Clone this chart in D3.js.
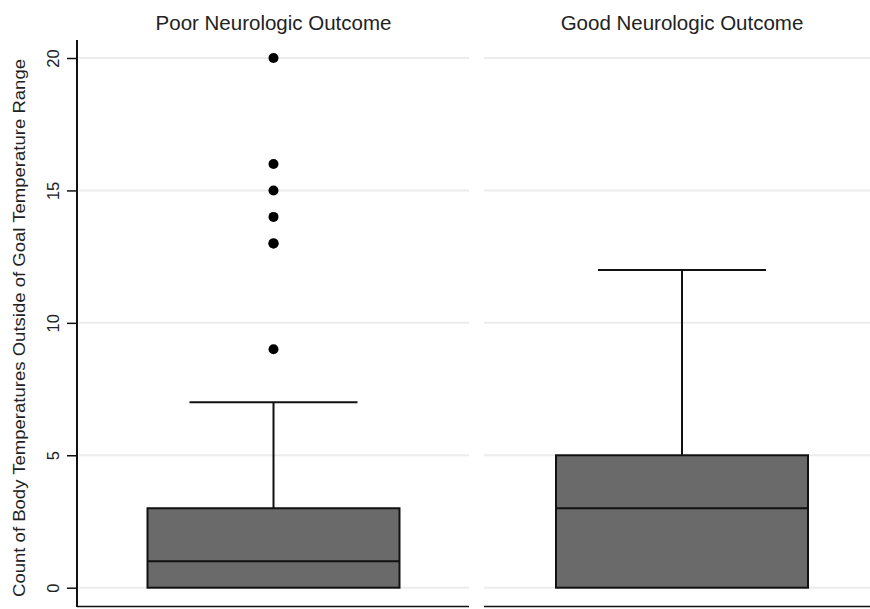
<!DOCTYPE html>
<html>
<head>
<meta charset="utf-8">
<script src="https://cdn.jsdelivr.net/npm/d3@7"></script>
<style>
  body { margin: 0; background: #fff; }
  svg { display: block; font-family: "Liberation Sans", Arial, sans-serif; }
</style>
</head>
<body>
<div id="chart"></div>
<script>
// Data
const groups = ['Poor Neurologic Outcome', 'Good Neurologic Outcome'];
const q1 = [0, 0];
const medians = [1, 3];
const q3 = [3, 5];
const whiskerLow = [0, 0];
const whiskerHigh = [7, 12];
const outliers = [[9, 13, 13, 14, 15, 16, 20], []];
const yTicks = [0, 5, 10, 15, 20];
const yLabel = 'Count of Body Temperatures Outside of Goal Temperature Range';

const width = 870;
const height = 609;

// Panel extents (two facets sharing one y axis)
const panels = [[77, 469], [484, 880]];
const boxWidth = 252;

const svg = d3.select('#chart')
  .append('svg')
  .attr('width', width)
  .attr('height', height);

const y = d3.scaleLinear()
  .domain([0, 20])
  .range([587.7, 58]);

// Box centres, one per facet
const x = d3.scaleOrdinal()
  .domain(groups)
  .range([273.5, 682]);

groups.forEach((name, i) => {
  const [x0, x1] = panels[i];
  const cx = x(name);
  const left = cx - boxWidth / 2;

  const g = svg.append('g');

  // Gridlines
  g.selectAll('.grid')
    .data(yTicks)
    .enter()
    .append('line')
    .attr('x1', x0 + (i === 0 ? 2 : 0))
    .attr('x2', Math.min(x1, width))
    .attr('y1', d => y(d))
    .attr('y2', d => y(d))
    .attr('stroke', '#ececec')
    .attr('stroke-width', 2);

  // Title
  g.append('text')
    .attr('x', cx)
    .attr('y', 30)
    .attr('text-anchor', 'middle')
    .style('font-size', '20.5px')
    .style('fill', '#222')
    .text(name);

  // Whisker (upper)
  g.append('line')
    .attr('x1', cx).attr('x2', cx)
    .attr('y1', y(q3[i])).attr('y2', y(whiskerHigh[i]))
    .attr('stroke', '#111').attr('stroke-width', 2);
  g.append('line')
    .attr('x1', cx - 84).attr('x2', cx + 84)
    .attr('y1', y(whiskerHigh[i])).attr('y2', y(whiskerHigh[i]))
    .attr('stroke', '#111').attr('stroke-width', 2);

  // Whisker (lower), only if below box
  if (whiskerLow[i] < q1[i]) {
    g.append('line')
      .attr('x1', cx).attr('x2', cx)
      .attr('y1', y(q1[i])).attr('y2', y(whiskerLow[i]))
      .attr('stroke', '#111').attr('stroke-width', 2);
  }

  // Box
  g.append('rect')
    .attr('x', left)
    .attr('y', y(q3[i]))
    .attr('width', boxWidth)
    .attr('height', y(q1[i]) - y(q3[i]))
    .attr('fill', '#6a6a6a')
    .attr('stroke', '#111')
    .attr('stroke-width', 2);

  // Median
  g.append('line')
    .attr('x1', left).attr('x2', left + boxWidth)
    .attr('y1', y(medians[i])).attr('y2', y(medians[i]))
    .attr('stroke', '#111').attr('stroke-width', 2);

  // Outliers
  g.selectAll('.outlier')
    .data(outliers[i])
    .enter()
    .append('circle')
    .attr('cx', cx)
    .attr('cy', d => y(d))
    .attr('r', 5)
    .attr('fill', '#000');

  // Bottom axis line
  g.append('line')
    .attr('x1', x0).attr('x2', Math.min(x1, width))
    .attr('y1', 606.5).attr('y2', 606.5)
    .attr('stroke', '#111').attr('stroke-width', 1.5);
});

// Y axis
const yAxis = svg.append('g')
  .attr('transform', 'translate(77,0)')
  .call(d3.axisLeft(y).tickValues(yTicks).tickSize(10).tickSizeOuter(0).tickFormat(d3.format('d')));

yAxis.select('.domain').remove();
yAxis.append('line')
  .attr('x1', 0).attr('x2', 0)
  .attr('y1', 40).attr('y2', 607)
  .attr('stroke', '#111').attr('stroke-width', 2);

yAxis.selectAll('.tick line')
  .attr('stroke', '#111')
  .attr('stroke-width', 1.5);

yAxis.selectAll('.tick text')
  .attr('x', null).attr('y', null).attr('dy', null)
  .attr('transform', 'translate(-18,0) rotate(-90)')
  .attr('text-anchor', 'middle')
  .style('font-size', '16.5px')
  .style('font-family', '"Liberation Sans", Arial, sans-serif')
  .style('fill', '#222');

// Y label
svg.append('text')
  .attr('transform', 'translate(25,328) rotate(-90)')
  .attr('text-anchor', 'middle')
  .style('font-size', '16px')
  .style('fill', '#222')
  .attr('textLength', 538)
  .attr('lengthAdjust', 'spacingAndGlyphs')
  .text(yLabel);
</script>
</body>
</html>
